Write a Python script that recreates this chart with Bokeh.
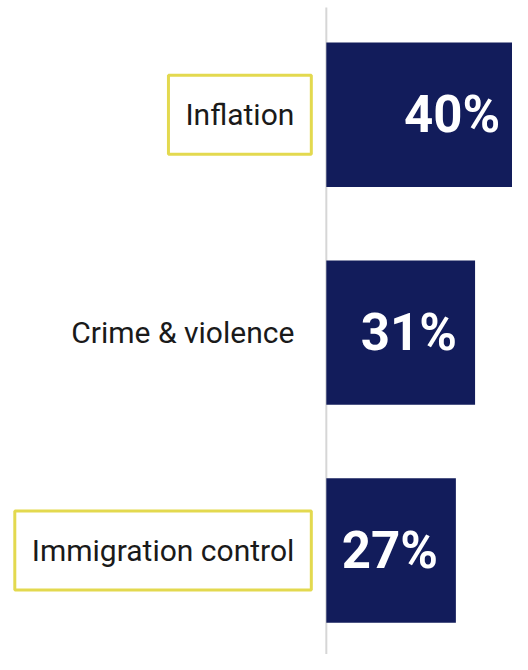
from bokeh.plotting import figure
from bokeh.models import ColumnDataSource, Range1d
from bokeh.core.properties import value
from bokeh.embed import file_html
from bokeh.resources import INLINE

categories = ["Inflation", "Crime & violence", "Immigration control"]
values = [40, 31, 27]
highlighted = [True, False, True]

ypos = list(range(len(categories)))
labels = [f"{v}%" for v in values]
border_colors = ["#e3d94f" if h else None for h in highlighted]

src = ColumnDataSource(dict(y=ypos, cat=categories, val=values, lab=labels,
                            bc=border_colors, zero=[0] * len(values)))

W, H = 512, 654
p = figure(width=W, height=H, output_backend="svg", toolbar_location=None,
           x_range=Range1d(-67.9, 38.8), y_range=Range1d(2.477, -0.524),
           min_border=0, outline_line_color=None)
p.xaxis.visible = False
p.yaxis.visible = False
p.xgrid.visible = False
p.ygrid.visible = False
p.background_fill_color = "white"
p.border_fill_color = "white"

p.segment(x0=[0], y0=[-0.492], x1=[0], y1=[2.477], line_color="#d6d6d6", line_width=2)

p.hbar(y="y", left="zero", right="val", height=0.663, source=src,
       fill_color="#121c5b", line_color=None)

p.text(x="val", y="y", text="lab", source=src, x_offset=-18,
       text_align="right", text_baseline="middle",
       text_font=value("Roboto"), text_font_style="bold",
       text_font_size="51px", text_color="white")

p.text(x="zero", y="y", text="cat", source=src, x_offset=-15,
       text_align="right", text_baseline="middle",
       text_font=value("Roboto"), text_font_size="30px", text_color="#1a1a1a",
       padding=(17, 22), border_line_color="bc", border_line_width=3)

open("out.html", "w").write(file_html(p, INLINE))
